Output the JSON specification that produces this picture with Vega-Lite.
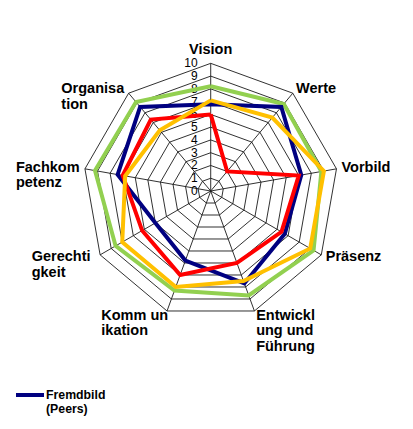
{
  "$schema": "https://vega.github.io/schema/vega-lite/v6.json",
  "width": 413,
  "height": 429,
  "autosize": "none",
  "padding": 0,
  "background": "white",
  "config": {"view": {"stroke": null}},
  "datasets": {
    "axes": [
      {"k": 0, "name": "Vision"},
      {"k": 1, "name": "Werte"},
      {"k": 2, "name": "Vorbild"},
      {"k": 3, "name": "Präsenz"},
      {"k": 4, "name": "Entwickl\nung und\nFührung"},
      {"k": 5, "name": "Komm un\nikation"},
      {"k": 6, "name": "Gerechti\ngkeit"},
      {"k": 7, "name": "Fachkom\npetenz"},
      {"k": 8, "name": "Organisa\ntion"}
    ],
    "ringpts": [
      {"k": 0, "rings": [1,2,3,4,5,6,7,8,9,10]},
      {"k": 1, "rings": [1,2,3,4,5,6,7,8,9,10]},
      {"k": 2, "rings": [1,2,3,4,5,6,7,8,9,10]},
      {"k": 3, "rings": [1,2,3,4,5,6,7,8,9,10]},
      {"k": 4, "rings": [1,2,3,4,5,6,7,8,9,10]},
      {"k": 5, "rings": [1,2,3,4,5,6,7,8,9,10]},
      {"k": 6, "rings": [1,2,3,4,5,6,7,8,9,10]},
      {"k": 7, "rings": [1,2,3,4,5,6,7,8,9,10]},
      {"k": 8, "rings": [1,2,3,4,5,6,7,8,9,10]},
      {"k": 9, "rings": [1,2,3,4,5,6,7,8,9,10]}
    ],
    "ticks": [
      {"v": 0}, {"v": 1}, {"v": 2}, {"v": 3}, {"v": 4}, {"v": 5},
      {"v": 6}, {"v": 7}, {"v": 8}, {"v": 9}, {"v": 10}
    ],
    "series": [
      {"series": "Selbstbild", "k": 0, "value": 8.2},
      {"series": "Selbstbild", "k": 1, "value": 8.9},
      {"series": "Selbstbild", "k": 2, "value": 8.8},
      {"series": "Selbstbild", "k": 3, "value": 9.3},
      {"series": "Selbstbild", "k": 4, "value": 8.7},
      {"series": "Selbstbild", "k": 5, "value": 8.3},
      {"series": "Selbstbild", "k": 6, "value": 8.6},
      {"series": "Selbstbild", "k": 7, "value": 9.2},
      {"series": "Selbstbild", "k": 8, "value": 9.1},
      {"series": "Selbstbild", "k": 9, "value": 8.2},
      {"series": "Fremdbild (Peers)", "k": 0, "value": 6.8},
      {"series": "Fremdbild (Peers)", "k": 1, "value": 8.6},
      {"series": "Fremdbild (Peers)", "k": 2, "value": 7.2},
      {"series": "Fremdbild (Peers)", "k": 3, "value": 6.7},
      {"series": "Fremdbild (Peers)", "k": 4, "value": 7.7},
      {"series": "Fremdbild (Peers)", "k": 5, "value": 5.8},
      {"series": "Fremdbild (Peers)", "k": 6, "value": 5.0},
      {"series": "Fremdbild (Peers)", "k": 7, "value": 7.4},
      {"series": "Fremdbild (Peers)", "k": 8, "value": 8.6},
      {"series": "Fremdbild (Peers)", "k": 9, "value": 6.8},
      {"series": "Fremdbild (Mitarbeiter)", "k": 0, "value": 6.0},
      {"series": "Fremdbild (Mitarbeiter)", "k": 1, "value": 2.0},
      {"series": "Fremdbild (Mitarbeiter)", "k": 2, "value": 7.0},
      {"series": "Fremdbild (Mitarbeiter)", "k": 3, "value": 6.4},
      {"series": "Fremdbild (Mitarbeiter)", "k": 4, "value": 6.0},
      {"series": "Fremdbild (Mitarbeiter)", "k": 5, "value": 7.0},
      {"series": "Fremdbild (Mitarbeiter)", "k": 6, "value": 6.2},
      {"series": "Fremdbild (Mitarbeiter)", "k": 7, "value": 7.0},
      {"series": "Fremdbild (Mitarbeiter)", "k": 8, "value": 7.3},
      {"series": "Fremdbild (Mitarbeiter)", "k": 9, "value": 6.0},
      {"series": "Fremdbild (Vorgesetzte)", "k": 0, "value": 7.1},
      {"series": "Fremdbild (Vorgesetzte)", "k": 1, "value": 7.5},
      {"series": "Fremdbild (Vorgesetzte)", "k": 2, "value": 9.0},
      {"series": "Fremdbild (Vorgesetzte)", "k": 3, "value": 9.0},
      {"series": "Fremdbild (Vorgesetzte)", "k": 4, "value": 7.5},
      {"series": "Fremdbild (Vorgesetzte)", "k": 5, "value": 8.0},
      {"series": "Fremdbild (Vorgesetzte)", "k": 6, "value": 8.0},
      {"series": "Fremdbild (Vorgesetzte)", "k": 7, "value": 6.8},
      {"series": "Fremdbild (Vorgesetzte)", "k": 8, "value": 6.2},
      {"series": "Fremdbild (Vorgesetzte)", "k": 9, "value": 7.1}
    ]
  },
  "layer": [
    {
      "data": {"name": "ringpts"},
      "transform": [
        {"flatten": ["rings"], "as": ["ring"]},
        {"calculate": "datum.ring * sin(datum.k * 2 * PI / 9)", "as": "px"},
        {"calculate": "datum.ring * cos(datum.k * 2 * PI / 9)", "as": "py"}
      ],
      "mark": {"type": "line", "stroke": "#1a1a1a", "strokeWidth": 0.9},
      "encoding": {
        "x": {"field": "px", "type": "quantitative", "scale": {"domain": [-16.5, 15.84], "nice": false, "zero": false}, "axis": null},
        "y": {"field": "py", "type": "quantitative", "scale": {"domain": [-18.64, 14.96], "nice": false, "zero": false}, "axis": null},
        "detail": {"field": "ring"},
        "order": {"field": "k"}
      }
    },
    {
      "data": {"name": "axes"},
      "transform": [
        {"calculate": "0", "as": "x0"},
        {"calculate": "0", "as": "y0"},
        {"calculate": "10 * sin(datum.k * 2 * PI / 9)", "as": "xe"},
        {"calculate": "10 * cos(datum.k * 2 * PI / 9)", "as": "ye"}
      ],
      "mark": {"type": "rule", "stroke": "#1a1a1a", "strokeWidth": 0.9},
      "encoding": {
        "x": {"field": "x0", "type": "quantitative"},
        "y": {"field": "y0", "type": "quantitative"},
        "x2": {"field": "xe"},
        "y2": {"field": "ye"}
      }
    },
    {
      "data": {"name": "ticks"},
      "transform": [{"calculate": "0", "as": "x0"}],
      "mark": {"type": "text", "align": "right", "baseline": "middle", "dx": -13, "font": "Liberation Sans", "fontSize": 12, "fill": "#000"},
      "encoding": {
        "x": {"field": "x0", "type": "quantitative"},
        "y": {"field": "v", "type": "quantitative"},
        "text": {"field": "v", "type": "quantitative"}
      }
    },
    {
      "data": {"name": "series"},
      "transform": [
        {"calculate": "datum.value * sin(datum.k * 2 * PI / 9)", "as": "px"},
        {"calculate": "datum.value * cos(datum.k * 2 * PI / 9)", "as": "py"}
      ],
      "mark": {"type": "line", "strokeWidth": 4, "strokeJoin": "miter"},
      "encoding": {
        "x": {"field": "px", "type": "quantitative"},
        "y": {"field": "py", "type": "quantitative"},
        "order": {"field": "k"},
        "color": {
          "field": "series",
          "type": "nominal",
          "scale": {
            "domain": ["Fremdbild (Peers)", "Selbstbild", "Fremdbild (Mitarbeiter)", "Fremdbild (Vorgesetzte)"],
            "range": ["#000080", "#92D050", "#FF0000", "#FFC000"]
          },
          "legend": {
            "values": ["Fremdbild (Peers)"],
            "orient": "none",
            "legendX": 14,
            "legendY": 379,
            "title": null,
            "padding": 0,
            "symbolType": "stroke",
            "symbolStrokeWidth": 4,
            "symbolSize": 784,
            "labelOffset": 0,
            "labelFont": "Liberation Sans",
            "labelFontWeight": "bold",
            "labelFontSize": 12.3,
            "labelColor": "#000",
            "labelBaseline": "middle",
            "labelExpr": "datum.label == 'Fremdbild (Peers)' ? ['Fremdbild', '(Peers)'] : datum.label"
          }
        }
      }
    },
    {
      "data": {"name": "axes"},
      "transform": [
        {"filter": "datum.k == 0"},
        {"calculate": "10.4 * sin(datum.k * 2 * PI / 9)", "as": "lx"},
        {"calculate": "10.4 * cos(datum.k * 2 * PI / 9)", "as": "ly"}
      ],
      "mark": {"type": "text", "align": "center", "baseline": "alphabetic", "dy": -4, "font": "Liberation Sans", "fontWeight": "bold", "fontSize": 14.5, "fill": "#000", "lineBreak": "\n", "lineHeight": 15.5},
      "encoding": {
        "x": {"field": "lx", "type": "quantitative"},
        "y": {"field": "ly", "type": "quantitative"},
        "text": {"field": "name"}
      }
    },
    {
      "data": {"name": "axes"},
      "transform": [
        {"filter": "datum.k >= 1 && datum.k <= 4"},
        {"calculate": "10.4 * sin(datum.k * 2 * PI / 9)", "as": "lx"},
        {"calculate": "10.4 * cos(datum.k * 2 * PI / 9)", "as": "ly"}
      ],
      "mark": {"type": "text", "align": "left", "baseline": "middle", "font": "Liberation Sans", "fontWeight": "bold", "fontSize": 14.5, "fill": "#000", "lineBreak": "\n", "lineHeight": 15.5},
      "encoding": {
        "x": {"field": "lx", "type": "quantitative"},
        "y": {"field": "ly", "type": "quantitative"},
        "text": {"field": "name"}
      }
    },
    {
      "data": {"name": "axes"},
      "transform": [
        {"filter": "datum.k >= 5"},
        {"calculate": "10.4 * sin(datum.k * 2 * PI / 9)", "as": "lx"},
        {"calculate": "10.4 * cos(datum.k * 2 * PI / 9)", "as": "ly"}
      ],
      "mark": {"type": "text", "align": "left", "baseline": "middle", "dx": -64, "font": "Liberation Sans", "fontWeight": "bold", "fontSize": 14.5, "fill": "#000", "lineBreak": "\n", "lineHeight": 15.5},
      "encoding": {
        "x": {"field": "lx", "type": "quantitative"},
        "y": {"field": "ly", "type": "quantitative"},
        "text": {"field": "name"}
      }
    }
  ]
}
